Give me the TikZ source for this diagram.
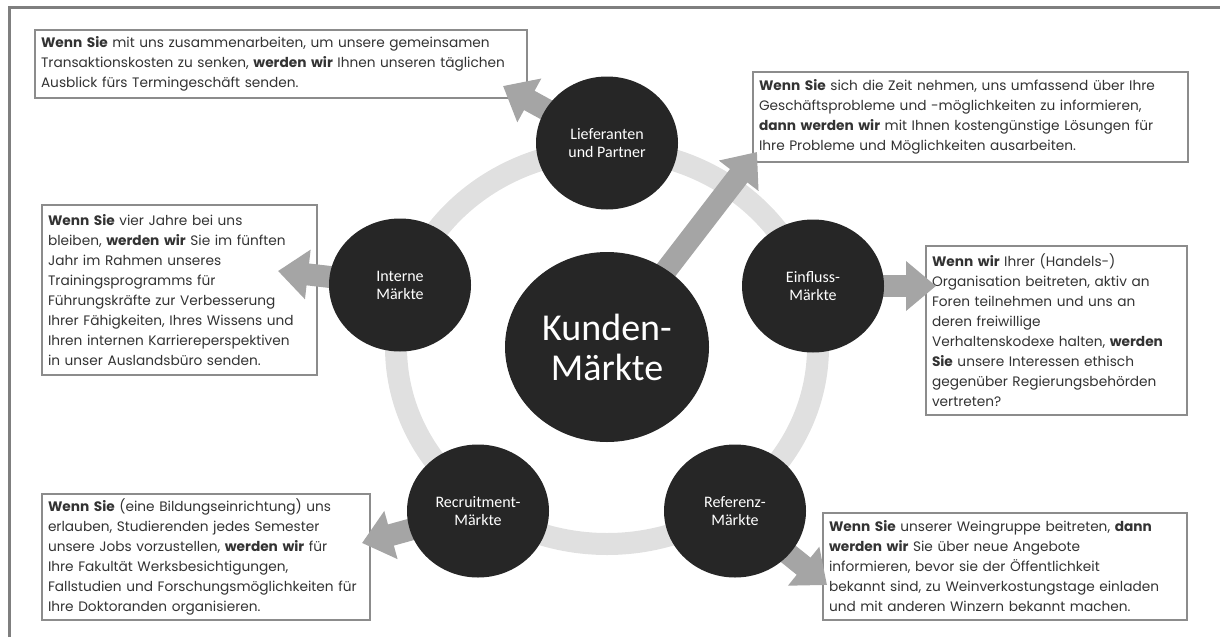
\documentclass[tikz,border=0pt]{standalone}
\usepackage{fontspec}
\setmainfont{Poppins}
\newfontfamily\calib{Carlito}
\usetikzlibrary{shapes.geometric,arrows.meta}
\pgfdeclarelayer{bg}
\pgfdeclarelayer{fg}
\pgfsetlayers{bg,main,fg}
\definecolor{frameg}{HTML}{7F7F7F}
\definecolor{ringg}{HTML}{E0E0E0}
\definecolor{arrg}{HTML}{A5A5A5}
\definecolor{circ}{HTML}{262626}
\definecolor{boxg}{HTML}{8C8C8C}
\definecolor{txt}{HTML}{333333}
\tikzset{
 market/.style={ellipse, fill=circ, minimum width=142pt, minimum height=133pt, inner sep=0pt, text=white, font=\calib\fontsize{16}{18}\selectfont, align=center},
 core/.style={ellipse, fill=circ, minimum width=204pt, minimum height=190pt, inner sep=0pt, text=white, font=\calib\fontsize{38}{40}\selectfont, align=center},
 infobox/.style={draw=boxg, line width=1.2pt, fill=white, text=txt, align=left, inner xsep=6pt, inner ysep=0pt, font=\fontsize{13.7}{20}\selectfont},
 bigarrow/.style={draw=arrg, line width=22pt, -{Triangle[width=48pt,length=30pt]}},
}
\begin{document}
\begin{tikzpicture}[x=1pt,y=-1pt]
\useasboundingbox (0,0) rectangle (1220,637);
\draw[frameg, line width=3pt] (9.5,637) -- (9.5,7.5) -- (1220,7.5);

\begin{pgfonlayer}{fg}
\node[core] (kunden) at (607,347) {Kunden-\\Märkte};
\node[market] (lief) at (607,143) {Lieferanten\\und Partner};
\node[market] (intern) at (400,285) {Interne\\Märkte};
\node[market] (einfl) at (813,286) {Einfluss-\\Märkte};
\node[market] (recr) at (478,511) {Recruitment-\\Märkte};
\node[market] (ref) at (735,511) {Referenz-\\Märkte};
\end{pgfonlayer}

\node[infobox, text width=480pt, minimum height=68pt] (b1) at (281,64) {\textbf{Wenn Sie} mit uns zusammenarbeiten, um unsere gemeinsamen\\Transaktionskosten zu senken, \textbf{werden wir} Ihnen unseren täglichen\\Ausblick fürs Termingeschäft senden.};
\node[infobox, text width=423pt, minimum height=90pt] (b2) at (970.5,117) {\textbf{Wenn Sie} sich die Zeit nehmen, uns umfassend über Ihre\\Geschäftsprobleme und -möglichkeiten zu informieren,\\\textbf{dann werden wir} mit Ihnen kostengünstige Lösungen für\\Ihre Probleme und Möglichkeiten ausarbeiten.};
\node[infobox, text width=263pt, minimum height=170pt] (b3) at (179.5,290) {\textbf{Wenn Sie} vier Jahre bei uns\\bleiben, \textbf{werden wir} Sie im fünften\\Jahr im Rahmen unseres\\Trainingsprogramms für\\Führungskräfte zur Verbesserung\\Ihrer Fähigkeiten, Ihres Wissens und\\Ihren internen Karriereperspektiven\\in unser Auslandsbüro senden.};
\node[infobox, text width=249pt, minimum height=169pt] (b4) at (1056.5,330.5) {\textbf{Wenn wir} Ihrer (Handels-)\\Organisation beitreten, aktiv an\\Foren teilnehmen und uns an\\deren freiwillige\\Verhaltenskodexe halten, \textbf{werden}\\\textbf{Sie} unsere Interessen ethisch\\gegenüber Regierungsbehörden\\vertreten?};
\node[infobox, text width=316pt, minimum height=126pt] (b5) at (206,557) {\textbf{Wenn Sie} (eine Bildungseinrichtung) uns\\erlauben, Studierenden jedes Semester\\unsere Jobs vorzustellen, \textbf{werden wir} für\\Ihre Fakultät Werksbesichtigungen,\\Fallstudien und Forschungsmöglichkeiten für\\Ihre Doktoranden organisieren.};
\node[infobox, text width=352pt, minimum height=107pt] (b6) at (1005,566.5) {\textbf{Wenn Sie} unserer Weingruppe beitreten, \textbf{dann}\\\textbf{werden wir} Sie über neue Angebote\\informieren, bevor sie der Öffentlichkeit\\bekannt sind, zu Weinverkostungstage einladen\\und mit anderen Winzern bekannt machen.};

\coordinate (t1) at (503,86);
\coordinate (t2) at (757,152);
\coordinate (t3) at (278,271);
\coordinate (t4) at (936,286);
\coordinate (t5) at (362,543);
\coordinate (t6) at (827,585);

\draw[bigarrow] (lief.center) -- (t1);
\draw[bigarrow] (kunden.center) -- (t2);
\draw[bigarrow] (intern.center) -- (t3);
\draw[bigarrow] (einfl.center) -- (t4);
\draw[bigarrow] (recr.center) -- (t5);
\draw[bigarrow] (ref.center) -- (t6);

\begin{pgfonlayer}{bg}
\draw[ringg, line width=22pt] (kunden.center) ellipse [x radius=211pt, y radius=197pt];
\end{pgfonlayer}
\end{tikzpicture}
\end{document}
